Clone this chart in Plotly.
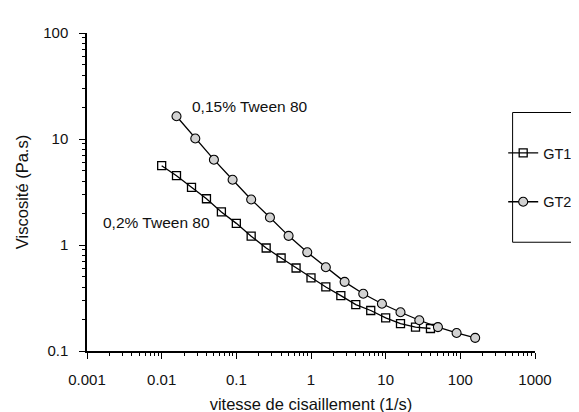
import plotly.graph_objects as go

# Shear rate (1/s) and viscosity (Pa.s)
gt1_x = [0.01, 0.0158, 0.0251, 0.0398, 0.0631, 0.1, 0.158, 0.251, 0.398, 0.631,
         1.0, 1.58, 2.51, 3.98, 6.31, 10.0, 15.8, 25.1, 39.8]
gt1_y = [5.60, 4.51, 3.50, 2.73, 2.05, 1.60, 1.21, 0.937, 0.754, 0.607,
         0.489, 0.402, 0.333, 0.274, 0.241, 0.205, 0.181, 0.168, 0.163]

gt2_x = [0.0158, 0.0282, 0.0501, 0.0891, 0.158, 0.282, 0.501, 0.891, 1.58,
         2.82, 5.01, 8.91, 15.8, 28.2, 50.1, 89.1, 158.0]
gt2_y = [16.4, 10.1, 6.38, 4.13, 2.69, 1.82, 1.22, 0.853, 0.616,
         0.449, 0.347, 0.279, 0.232, 0.195, 0.168, 0.148, 0.133]

x_ticks = [0.001, 0.01, 0.1, 1, 10, 100, 1000]
x_tick_labels = ["0.001", "0.01", "0.1", "1", "10", "100", "1000"]
y_ticks = [0.1, 1, 10, 100]
y_tick_labels = ["0.1", "1", "10", "100"]

FONT = "Liberation Sans, Arial, sans-serif"
INK = "#111"

fig = go.Figure()
fig.add_trace(go.Scatter(
    x=gt1_x, y=gt1_y, name="GT1", mode="lines+markers", legendgroup="a",
    line=dict(color="black", width=1.3),
    marker=dict(symbol="square-open", size=8, color="black", line=dict(width=1.3)),
))
fig.add_trace(go.Scatter(
    x=gt2_x, y=gt2_y, name="GT2", mode="lines+markers", legendgroup="b",
    line=dict(color="black", width=1.3),
    marker=dict(symbol="circle", size=9, color="#d2d2d2",
                line=dict(color="black", width=1.1)),
))

axis_common = dict(
    type="log", showgrid=False, zeroline=False, showline=True,
    linecolor="black", linewidth=1.5, ticks="outside", ticklen=6,
    tickwidth=1.2, tickcolor="black", mirror=False, ticklabelstandoff=8,
    tickfont=dict(family=FONT, size=15, color=INK),
    minor=dict(ticks="outside", ticklen=3, tickwidth=1, tickcolor="black",
               dtick="D1", showgrid=False),
)

fig.update_layout(
    width=579, height=412,
    margin=dict(l=79, r=52, t=25, b=69, autoexpand=False),
    paper_bgcolor="white", plot_bgcolor="white",
    font=dict(family=FONT, size=15, color=INK),
    xaxis=dict(axis_common, range=[-3, 3], tickvals=x_ticks, ticktext=x_tick_labels,
               title=dict(text="vitesse de cisaillement (1/s)",
                          font=dict(family=FONT, size=16.5, color=INK), standoff=12)),
    yaxis=dict(axis_common, range=[-1, 2], tickvals=y_ticks, ticktext=y_tick_labels,
               title=dict(text="Viscosité (Pa.s)",
                          font=dict(family=FONT, size=16.5, color=INK), standoff=10)),
    legend=dict(x=0.929, y=0.673, xanchor="left", yanchor="top",
                borderwidth=0, bgcolor="rgba(0,0,0,0)",
                font=dict(family=FONT, size=14.5, color=INK),
                tracegroupgap=27, traceorder="grouped", itemwidth=30),
    shapes=[dict(type="rect", xref="paper", yref="paper",
                 x0=0.95, x1=1.25, y0=0.342, y1=0.75,
                 line=dict(color="black", width=1), fillcolor="rgba(0,0,0,0)",
                 layer="below")],
    annotations=[
        dict(x=-0.818, y=1.302, xref="x", yref="y", text="0,15% Tween 80",
             showarrow=False, font=dict(family=FONT, size=15.5, color=INK)),
        dict(x=-2.07, y=0.217, xref="x", yref="y", text="0,2% Tween 80",
             showarrow=False, font=dict(family=FONT, size=15.5, color=INK)),
    ],
)

fig.write_html("out.html")
